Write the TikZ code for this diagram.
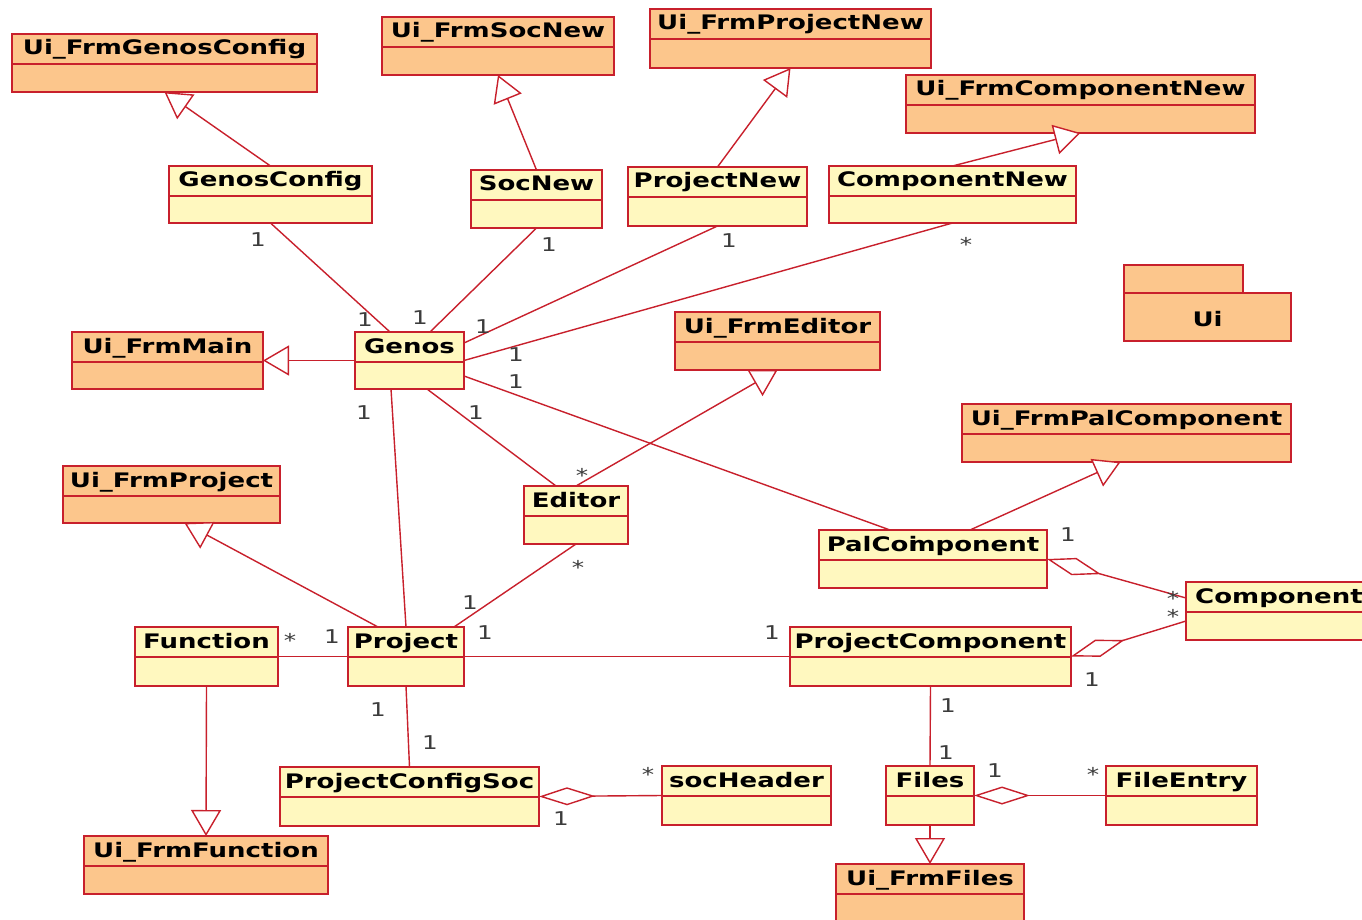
\documentclass[tikz,border=0pt]{standalone}
\usepackage{fontspec}
\newfontfamily\clsfont[FakeStretch=1.3]{DejaVu Sans}
\usetikzlibrary{arrows.meta,calc}
\definecolor{uiorange}{HTML}{FCC68C}
\definecolor{clsyellow}{HTML}{FFF8BF}
\definecolor{umlred}{HTML}{C8202C}
\definecolor{multgray}{HTML}{3C3C3C}
\tikzset{
 box/.style={draw=umlred, line width=1.8pt, inner sep=0pt, outer sep=0pt},
 uibox/.style={box, fill=uiorange},
 clsbox/.style={box, fill=clsyellow},
 divider/.style={draw=umlred, line width=1.5pt},
 title/.style={font=\clsfont\bfseries\fontsize{20}{20}\selectfont, text=black, anchor=base, inner sep=0pt},
 mult/.style={font=\clsfont\fontsize{19}{19}\selectfont, text=multgray, inner sep=0pt},
 conn/.style={draw=umlred, line width=1.4pt},
 gen/.style={conn, -{Triangle[open, length=26pt, width=30pt, fill=white]}},
 agg/.style={conn, {Diamond[open, length=56pt, width=18pt, fill=white]}-},
}
\newcommand\umlbox[7]{%
 \pgfmathsetmacro\bw{#5-#3}%
 \pgfmathsetmacro\bh{#6-#4}%
 \node[#2, minimum width=\bw pt, minimum height=\bh pt, anchor=north west] (#1) at (#3,#4) {};
 \draw[divider] ([yshift=-30pt]#1.north west) -- ([yshift=-30pt]#1.north east);
 \node[title] (#1-t) at ([yshift=-21pt]#1.north) {#7};
}
\begin{document}
\begin{tikzpicture}[x=1pt,y=-1pt]
\fill[white] (0,0) rectangle (1362,920);
\clip (0,0) rectangle (1362,920);
% Ui boxes
\umlbox{uGenosConfig}{uibox}{12}{34}{317}{92}{Ui\_FrmGenosConfig}
\umlbox{uSocNew}{uibox}{382}{17}{614}{75}{Ui\_FrmSocNew}
\umlbox{uProjectNew}{uibox}{650}{9}{931}{68}{Ui\_FrmProjectNew}
\umlbox{uComponentNew}{uibox}{906}{75}{1255}{133}{Ui\_FrmComponentNew}
\umlbox{uMain}{uibox}{72}{332}{263}{389}{Ui\_FrmMain}
\umlbox{uEditor}{uibox}{675}{312}{880}{370}{Ui\_FrmEditor}
\umlbox{uPal}{uibox}{962}{404}{1291}{462}{Ui\_FrmPalComponent}
\umlbox{uProject}{uibox}{63}{466}{280}{523}{Ui\_FrmProject}
\umlbox{uFunction}{uibox}{84}{836}{328}{894}{Ui\_FrmFunction}
\umlbox{uFiles}{uibox}{836}{864}{1024}{930}{Ui\_FrmFiles}
% classes
\umlbox{GenosConfig}{clsbox}{169}{166}{372}{223}{GenosConfig}
\umlbox{SocNew}{clsbox}{471}{170}{602}{228}{SocNew}
\umlbox{ProjectNew}{clsbox}{628}{167}{807}{226}{ProjectNew}
\umlbox{ComponentNew}{clsbox}{829}{166}{1076}{223}{ComponentNew}
\umlbox{Genos}{clsbox}{355}{332}{464}{389}{Genos}
\umlbox{Editor}{clsbox}{524}{486}{628}{544}{Editor}
\umlbox{PalComponent}{clsbox}{819}{530}{1047}{588}{PalCo\rlap{i}mponent}
\umlbox{Component}{clsbox}{1186}{582}{1372}{640}{Component}
\umlbox{Function}{clsbox}{135}{627}{278}{686}{Function}
\umlbox{Project}{clsbox}{348}{627}{464}{686}{Project}
\umlbox{ProjectComponent}{clsbox}{790}{627}{1071}{686}{ProjectComponent}
\umlbox{ProjectConfigSoc}{clsbox}{280}{767}{539}{826}{ProjectConfigSoc}
\umlbox{socHeader}{clsbox}{662}{766}{831}{825}{socHeader}
\umlbox{Files}{clsbox}{886}{766}{974}{825}{Files}
\umlbox{FileEntry}{clsbox}{1106}{766}{1257}{825}{FileEntry}
% Ui package
\node[uibox, minimum width=119pt, minimum height=28pt, anchor=north west] (uitab) at (1124,265) {};
\node[uibox, minimum width=167pt, minimum height=48pt, anchor=north west] (uipkg) at (1124,293) {};
\node[title, anchor=center] (uipkg-t) at ([yshift=-2pt]uipkg.center) {Ui};
% generalizations
\draw[gen] (GenosConfig.north) -- (uGenosConfig.south);
\draw[gen] (SocNew.north) -- (uSocNew.south);
\draw[gen] (ProjectNew.north) -- (uProjectNew.south);
\draw[gen] (ComponentNew.north) -- (uComponentNew.south);
\draw[gen] (Genos.west) -- (uMain.east);
\draw[gen] (Editor.north) -- (uEditor.south);
\draw[gen] ([xshift=37pt]PalComponent.north) -- ([xshift=-6pt]uPal.south);
\draw[gen] ([xshift=-28pt]Project.north) -- ([xshift=13pt]uProject.south);
\draw[gen] (Function.south) -- (uFunction.north);
\draw[gen] (Files.south) -- (uFiles.north);
% associations
\draw[conn] (GenosConfig.south) -- ([xshift=35pt]Genos.north west);
\draw[conn] (SocNew.south) -- ([xshift=75pt]Genos.north west);
\draw[conn] (ProjectNew.south) -- ([yshift=-11pt]Genos.north east);
\draw[conn] (ComponentNew.south) -- (Genos.east);
\draw[conn] ([yshift=-44pt]Genos.north east) -- ([xshift=71pt]PalComponent.north west);
\draw[conn] ([xshift=72pt]Genos.south west) -- ([xshift=32pt]Editor.north west);
\draw[conn] ([xshift=36pt]Genos.south west) -- (Project.north);
\draw[conn] (Editor.south) -- ([xshift=-10pt]Project.north east);
\draw[conn] (Function.east) -- (Project.west);
\draw[conn] (Project.east) -- (ProjectComponent.west);
\draw[conn] (Project.south) -- (ProjectConfigSoc.north);
\draw[conn] (ProjectComponent.south) -- (Files.north);
\draw[agg] (ProjectConfigSoc.east) -- (socHeader.west);
\draw[agg] (Files.east) -- (FileEntry.west);
\draw[agg] (PalComponent.east) -- ([yshift=-16pt]Component.north west);
\draw[agg] (ProjectComponent.east) -- ([yshift=-39pt]Component.north west);
% multiplicities
\node[mult] (m1) at (258,240) {1};
\node[mult] (m2) at (365,320) {1};
\node[mult] (m3) at (549,245) {1};
\node[mult] (m4) at (420,318) {1};
\node[mult] (m5) at (729,241) {1};
\node[mult] (m6) at (483,327) {1};
\node[mult] (m7) at (966,244) {*};
\node[mult] (m8) at (516,355) {1};
\node[mult] (m9) at (516,382) {1};
\node[mult] (m10) at (476,413) {1};
\node[mult] (m11) at (582,475) {*};
\node[mult] (m12) at (364,413) {1};
\node[mult] (m13) at (578,567) {*};
\node[mult] (m14) at (470,603) {1};
\node[mult] (m15) at (290,640) {*};
\node[mult] (m16) at (332,637) {1};
\node[mult] (m17) at (485,633) {1};
\node[mult] (m18) at (772,633) {1};
\node[mult] (m19) at (378,710) {1};
\node[mult] (m20) at (430,743) {1};
\node[mult] (m21) at (648,774) {*};
\node[mult] (m22) at (561,819) {1};
\node[mult] (m23) at (948,706) {1};
\node[mult] (m24) at (946,753) {1};
\node[mult] (m25) at (995,771) {1};
\node[mult] (m26) at (1093,774) {*};
\node[mult] (m27) at (1068,535) {1};
\node[mult] (m28) at (1173,598) {*};
\node[mult] (m29) at (1173,616) {*};
\node[mult] (m30) at (1092,680) {1};
\end{tikzpicture}
\end{document}
